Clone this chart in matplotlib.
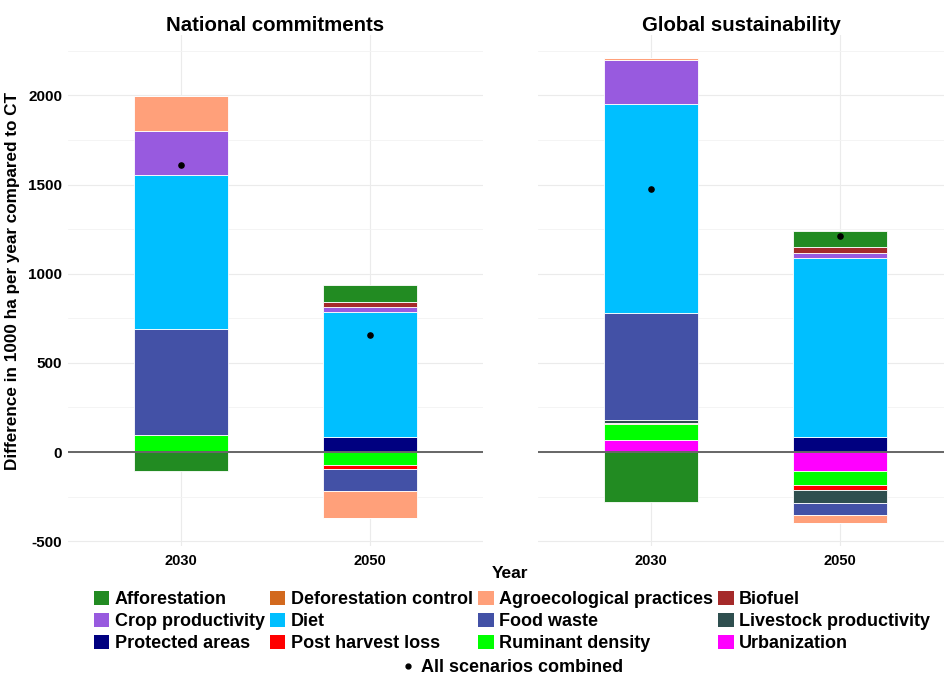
import numpy as np
import matplotlib.pyplot as plt
from matplotlib.patches import Patch
from matplotlib.lines import Line2D

plt.rcParams['font.family'] = ['Liberation Sans', 'DejaVu Sans']
plt.rcParams['font.weight'] = 'bold'

# Drivers in legend order
drivers = ["Afforestation", "Deforestation control", "Agroecological practices", "Biofuel",
           "Crop productivity", "Diet", "Food waste", "Livestock productivity",
           "Protected areas", "Post harvest loss", "Ruminant density", "Urbanization"]
colors = ["#228B22", "#D2691E", "#FFA07A", "#A52A2A",
          "#985ADF", "#00BFFF", "#4351A6", "#2F4F4F",
          "#000080", "#FF0000", "#00FF00", "#FF00FF"]

years = ["2030", "2050"]

# Difference in 1000 ha per year compared to CT, per driver
national_2030 = [-106, 0, 196, 0, 248, 863, 594, 0, 0, 0, 95, 0]
national_2050 = [100, 0, -152, 28, 27, 698, -119, 0, 86, -22, -75, 0]
global_2030 = [-278, 0, 11, 0, 247, 1172, 600, 14, 0, 7, 93, 65]
global_2050 = [92, 0, -42, 33, 30, 1000, -69, -73, 86, -28, -80, -105]

national_combined = [1608, 654]
global_combined = [1477, 1214]

panels = [
    ("National commitments", [national_2030, national_2050], national_combined),
    ("Global sustainability", [global_2030, global_2050], global_combined),
]

fig = plt.figure(figsize=(9.44, 6.77), dpi=100)
W, H = 944, 677
bottom_px, top_px = 546, 35
axes_box = [(67.6, 483), (538, 944)]
step = (483 - 67.6) / 2.2

for i, (title, values, combined) in enumerate(panels):
    x0, x1 = axes_box[i]
    ax = fig.add_axes([x0 / W, 1 - bottom_px / H, (x1 - x0) / W, (bottom_px - top_px) / H])
    ax.set_xlim(-0.6, -0.6 + (x1 - x0) / step)
    ax.set_ylim(-527, 2339)

    x = np.arange(len(years))
    pos = np.zeros(len(years))
    neg = np.zeros(len(years))
    # stack from the last driver outwards, as ggplot does
    for k in reversed(range(len(drivers))):
        v = np.array([values[j][k] for j in range(len(years))], dtype=float)
        vp = np.where(v > 0, v, 0)
        vn = np.where(v < 0, v, 0)
        if vp.any():
            ax.bar(x, vp, bottom=pos, width=0.5, color=colors[k],
                   edgecolor="white", linewidth=0.6, zorder=2)
        if vn.any():
            ax.bar(x, vn, bottom=neg, width=0.5, color=colors[k],
                   edgecolor="white", linewidth=0.6, zorder=2)
        pos += vp
        neg += vn

    ax.axhline(0, color="#666666", linewidth=1.4, zorder=3)
    ax.scatter(x, combined, s=14, color="black", zorder=4)

    ax.set_yticks([-500, 0, 500, 1000, 1500, 2000])
    ax.set_yticks([-250, 250, 750, 1250, 1750, 2250], minor=True)
    ax.set_xticks(x)
    ax.set_xticklabels(years, fontsize=10.5, fontweight="bold")
    ax.grid(True, which="major", color="#ebebeb", linewidth=0.8, zorder=0)
    ax.grid(True, which="minor", color="#f3f3f3", linewidth=0.6)
    ax.set_axisbelow(True)
    for s in ax.spines.values():
        s.set_visible(False)
    ax.tick_params(length=0, pad=6, which="both")
    if i == 0:
        ax.set_yticklabels([f"{t:d}" for t in [-500, 0, 500, 1000, 1500, 2000]],
                           fontsize=11, fontweight="bold")
        ax.tick_params(axis="y", pad=4)
        ax.set_ylabel("Difference in 1000 ha per year compared to CT",
                      fontsize=12.3, fontweight="bold")
        ax.yaxis.set_label_coords(-0.114, 0.519)
    else:
        ax.set_yticklabels([])
    ax.set_title(title, fontsize=14.7, fontweight="bold", pad=3)

fig.text(510 / W, 1 - 573 / H, "Year", ha="center", va="center",
         fontsize=12.5, fontweight="bold")

# legend laid out row by row, four per row
ncol = 4
nrow = 3
order = [r * ncol + c for c in range(ncol) for r in range(nrow)]
handles = [Patch(facecolor=colors[k], edgecolor="none") for k in order]
labels = [drivers[k] for k in order]
fig.legend(handles, labels, ncol=ncol, loc="center", bbox_to_anchor=(512 / W, 1 - 621.5 / H),
           frameon=False, fontsize=13, handlelength=0.85, handleheight=0.85,
           handletextpad=0.3, columnspacing=0.3, labelspacing=0.25,
           borderpad=0, borderaxespad=0)

dot = Line2D([], [], marker="o", linestyle="none", color="black", markersize=3.5)
fig.legend([dot], ["All scenarios combined"], loc="center",
           bbox_to_anchor=(513 / W, 1 - 668 / H), frameon=False, fontsize=13,
           handlelength=0.6, handletextpad=0.4, borderpad=0, borderaxespad=0)

fig.savefig("out.png", dpi=100)
